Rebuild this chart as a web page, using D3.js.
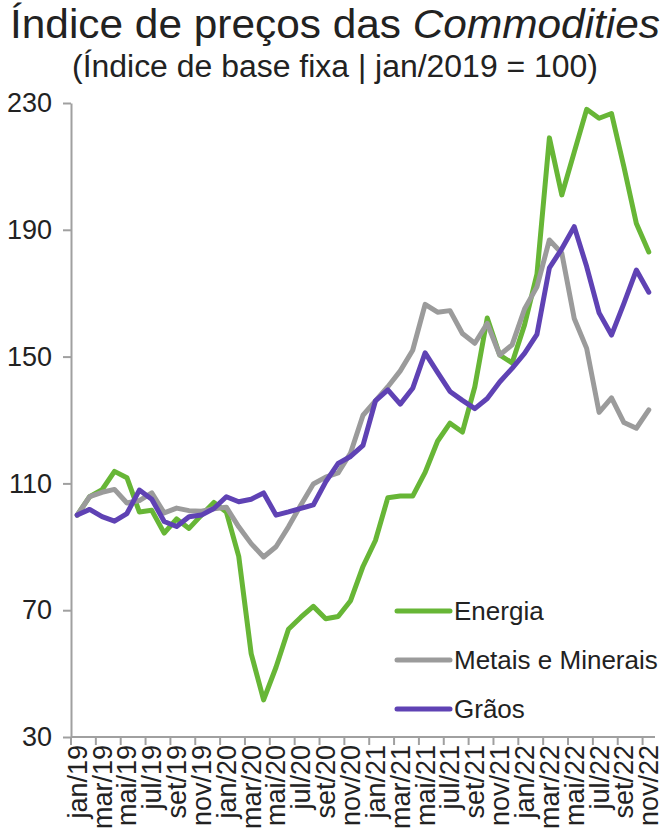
<!DOCTYPE html>
<html>
<head>
<meta charset="utf-8">
<script src="https://cdn.jsdelivr.net/npm/d3@7/dist/d3.min.js"></script>
<style>
  html, body { margin: 0; padding: 0; background: #fff; }
  svg { display: block; font-family: "Liberation Sans", Arial, sans-serif; }
</style>
</head>
<body>
<svg id="chart" width="665" height="833"></svg>
<script>
const monthNames = ["jan","fev","mar","abr","mai","jun","jul","ago","set","out","nov","dez"];
const years = ["19","20","21","22"];
const categories = [];
years.forEach(yy => monthNames.forEach(m => categories.push(m + "/" + yy)));
categories.splice(47); // jan/19 .. nov/22

const energia = [100, 105.8, 108, 113.8, 111.8, 101, 101.5, 94.3, 98.8, 95.8, 100, 104,
  101, 87, 56.3, 41.7, 52, 64, 67.8, 71.2, 67.3, 68, 73, 83.8,
  92, 105.5, 106, 106, 113.5, 123.3, 129, 126.2, 140.5, 162.2, 150.5, 148,
  160, 176, 219, 201, 214.5, 228, 225.2, 226.7, 209.8, 192, 183];
const metais = [100, 105.8, 107.2, 108.1, 103.8, 104.6, 107, 100.7, 102.2, 101.4, 101.2, 102,
  102.5, 96.3, 91, 86.8, 90, 96.3, 103.2, 109.8, 112, 113.3, 119.6, 131.5,
  136, 140.5, 145.5, 152, 166.5, 164, 164.5, 157.3, 154.2, 160.5, 150.5, 153.7,
  165, 172, 186.8, 182.6, 162, 152.6, 132.4, 137, 129.2, 127.4, 133.2];
const graos = [100, 101.8, 99.5, 98.1, 100.5, 107.9, 105, 98, 96.4, 99.5, 100, 102.1,
  105.8, 104.2, 105, 107, 100, 101, 102.1, 103.2, 110.5, 116.3, 118.5, 122,
  136, 139.5, 135, 140, 151.2, 145, 139, 136.2, 133.6, 136.8, 142, 146.3,
  151, 157, 178, 184, 191, 178.4, 163.8, 156.8, 166.8, 177.3, 170.3];

const yTicks = [30, 70, 110, 150, 190, 230];
const xTickLabels = categories.filter((c, i) => i % 2 === 0);

const seriesNames = ["Energia", "Metais e Minerais", "Grãos"];
const seriesColors = ["#67b636", "#9b9b9b", "#5f42b4"];
const seriesValues = [energia, metais, graos];

const svg = d3.select("#chart");
const axisColor = "#a0a0a0";
const textColor = "#222";

const plotLeft = 71, plotRight = 655, plotTop = 103, plotBottom = 737;
const x = d3.scaleBand().domain(categories).range([plotLeft, plotRight]).padding(0);
const y = d3.scaleLinear().domain([30, 230]).range([plotBottom, plotTop]);
const cx = c => x(c) + x.bandwidth() / 2;

// Title
const title = svg.append("text")
  .attr("x", 335).attr("y", 38)
  .attr("text-anchor", "middle")
  .attr("font-size", 41)
  .attr("textLength", 650)
  .attr("lengthAdjust", "spacingAndGlyphs")
  .attr("fill", textColor);
title.append("tspan").text("Índice de preços das ");
title.append("tspan").attr("font-style", "italic").text("Commodities");

svg.append("text")
  .attr("x", 335).attr("y", 77)
  .attr("text-anchor", "middle")
  .attr("font-size", 31)
  .attr("textLength", 526)
  .attr("lengthAdjust", "spacingAndGlyphs")
  .attr("fill", textColor)
  .text("(Índice de base fixa | jan/2019 = 100)");

// Y axis
const yAxis = svg.append("g").attr("transform", `translate(${plotLeft},0)`)
  .call(d3.axisLeft(y).tickValues(yTicks).tickSize(8).tickPadding(11).tickSizeOuter(0));
yAxis.select(".domain").attr("stroke", axisColor).attr("stroke-width", 2);
yAxis.selectAll(".tick line").attr("stroke", axisColor).attr("stroke-width", 2);
yAxis.selectAll(".tick text").attr("font-size", 27).attr("fill", textColor)
  .attr("font-family", "Liberation Sans, Arial, sans-serif");

// X axis
const xAxisG = svg.append("g");
xAxisG.append("line")
  .attr("x1", plotLeft).attr("x2", plotRight)
  .attr("y1", plotBottom).attr("y2", plotBottom)
  .attr("stroke", axisColor).attr("stroke-width", 2);
xAxisG.selectAll("line.xt")
  .data(xTickLabels)
  .join("line")
  .attr("class", "xt")
  .attr("x1", d => x(d)).attr("x2", d => x(d))
  .attr("y1", plotBottom).attr("y2", plotBottom + 8)
  .attr("stroke", axisColor).attr("stroke-width", 2);
xAxisG.selectAll("text.xl")
  .data(xTickLabels)
  .join("text")
  .attr("class", "xl")
  .attr("transform", d => `translate(${cx(d)},${plotBottom + 8}) rotate(-90)`)
  .attr("text-anchor", "end")
  .attr("dy", "0.35em")
  .attr("font-size", 27)
  .attr("fill", textColor)
  .text(d => d);

// Lines
const line = d3.line()
  .x((d, i) => cx(categories[i]))
  .y(d => y(d));

seriesValues.forEach((vals, k) => {
  svg.append("path")
    .datum(vals)
    .attr("d", line)
    .attr("fill", "none")
    .attr("stroke", seriesColors[k])
    .attr("stroke-width", 5)
    .attr("stroke-linejoin", "round")
    .attr("stroke-linecap", "round");
});

// Legend
const legend = svg.append("g");
seriesNames.forEach((name, k) => {
  const ly = 611 + k * 49;
  legend.append("line")
    .attr("x1", 397).attr("x2", 450)
    .attr("y1", ly).attr("y2", ly)
    .attr("stroke", seriesColors[k])
    .attr("stroke-width", 5)
    .attr("stroke-linecap", "round");
  legend.append("text")
    .attr("x", 454).attr("y", ly)
    .attr("dy", "0.35em")
    .attr("font-size", 26)
    .attr("fill", textColor)
    .text(name);
});
</script>
</body>
</html>
